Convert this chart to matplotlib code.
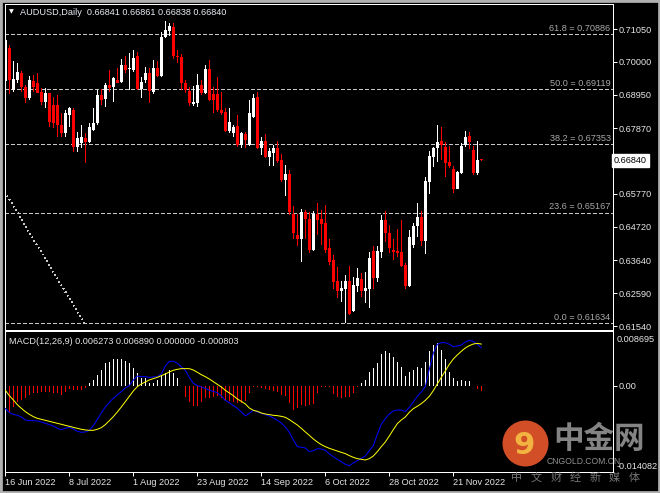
import numpy as np
import matplotlib
matplotlib.use('Agg')
import matplotlib.pyplot as plt
from matplotlib.patches import Ellipse, Rectangle

plt.rcParams['font.family'] = ['Liberation Sans', 'Noto Sans CJK SC', 'DejaVu Sans']

symbol_title = "AUDUSD,Daily"
last_quote = ["0.66841", "0.66861", "0.66838", "0.66840"]

opens = [
    0.6939, 0.7043, 0.6910, 0.6942, 0.6963, 0.6920, 0.6883, 0.6939, 0.6931, 0.6904,
    0.6872, 0.6899, 0.6862, 0.6862, 0.6798, 0.6771, 0.6830, 0.6846, 0.6728, 0.6739,
    0.6755, 0.6744, 0.6782, 0.6803, 0.6894, 0.6880, 0.6926, 0.6918, 0.6942, 0.6936,
    0.6990, 0.6978, 0.6974, 0.7019, 0.6912, 0.6942, 0.6963, 0.6904, 0.6979, 0.6955,
    0.7078, 0.7100, 0.7113, 0.7019, 0.7014, 0.6931, 0.6908, 0.6865, 0.6869, 0.6926,
    0.6901, 0.6976, 0.6897, 0.6897, 0.6846, 0.6840, 0.6780, 0.6772, 0.6795, 0.6734,
    0.6769, 0.6734, 0.6824, 0.6886, 0.6723, 0.6747, 0.6696, 0.6707, 0.6725, 0.6686,
    0.6622, 0.6641, 0.6512, 0.6445, 0.6432, 0.6518, 0.6496, 0.6397, 0.6513, 0.6496,
    0.6483, 0.6403, 0.6365, 0.6298, 0.6267, 0.6273, 0.6298, 0.6202, 0.6283, 0.6305,
    0.6267, 0.6273, 0.6394, 0.6309, 0.6392, 0.6494, 0.6451, 0.6397, 0.6394, 0.6391,
    0.6349, 0.6283, 0.6413, 0.6474, 0.6504, 0.6427, 0.6616, 0.6696, 0.6723, 0.6748,
    0.6728, 0.6680, 0.6657, 0.6593, 0.6645, 0.6734, 0.6764, 0.6718, 0.6645, 0.66841]
highs = [
    0.7072, 0.7054, 0.7001, 0.6995, 0.6971, 0.6926, 0.6955, 0.6958, 0.6963, 0.6915,
    0.6915, 0.6901, 0.6888, 0.6894, 0.6835, 0.6846, 0.6854, 0.6851, 0.6776, 0.6798,
    0.6771, 0.6803, 0.6851, 0.6910, 0.6912, 0.6931, 0.6974, 0.6952, 0.6979, 0.7008,
    0.7017, 0.7029, 0.7038, 0.7032, 0.6952, 0.6984, 0.6979, 0.7006, 0.7001, 0.7097,
    0.7132, 0.7125, 0.7123, 0.7038, 0.7025, 0.6942, 0.6920, 0.6923, 0.6961, 0.6942,
    0.6990, 0.7006, 0.6918, 0.6952, 0.6904, 0.6851, 0.6851, 0.6798, 0.6830, 0.6776,
    0.6774, 0.6878, 0.6897, 0.6904, 0.6760, 0.6769, 0.6723, 0.6734, 0.6746, 0.6705,
    0.6670, 0.6654, 0.6538, 0.6513, 0.6528, 0.6525, 0.6520, 0.6522, 0.6547, 0.6525,
    0.6541, 0.6432, 0.6381, 0.6344, 0.6298, 0.6317, 0.6346, 0.6310, 0.6339, 0.6323,
    0.6326, 0.6392, 0.6410, 0.6410, 0.6510, 0.6522, 0.6478, 0.6432, 0.6464, 0.6494,
    0.6355, 0.6460, 0.6483, 0.6547, 0.6523, 0.6630, 0.6715, 0.6726, 0.6798, 0.6792,
    0.6744, 0.6730, 0.6666, 0.6651, 0.6739, 0.6780, 0.6776, 0.6730, 0.6748, 0.66861]
lows = [
    0.6931, 0.6896, 0.6904, 0.6931, 0.6904, 0.6869, 0.6878, 0.6904, 0.6899, 0.6861,
    0.6851, 0.6792, 0.6787, 0.6760, 0.6760, 0.6760, 0.6792, 0.6712, 0.6712, 0.6723,
    0.6677, 0.6739, 0.6780, 0.6798, 0.6862, 0.6856, 0.6904, 0.6872, 0.6931, 0.6933,
    0.6963, 0.6910, 0.6968, 0.6910, 0.6883, 0.6931, 0.6867, 0.6897, 0.6952, 0.6950,
    0.7075, 0.7083, 0.7008, 0.6995, 0.6910, 0.6899, 0.6858, 0.6858, 0.6854, 0.6894,
    0.6897, 0.6876, 0.6837, 0.6840, 0.6830, 0.6776, 0.6773, 0.6760, 0.6728, 0.6723,
    0.6723, 0.6730, 0.6821, 0.6721, 0.6702, 0.6693, 0.6666, 0.6666, 0.6675, 0.6616,
    0.6570, 0.6509, 0.6432, 0.6411, 0.6360, 0.6432, 0.6389, 0.6395, 0.6445, 0.6413,
    0.6387, 0.6349, 0.6274, 0.6245, 0.6232, 0.6163, 0.6189, 0.6200, 0.6264, 0.6248,
    0.6227, 0.6211, 0.6272, 0.6296, 0.6371, 0.6424, 0.6387, 0.6365, 0.6374, 0.6344,
    0.6271, 0.6280, 0.6403, 0.6440, 0.6411, 0.6384, 0.6577, 0.6664, 0.6680, 0.6686,
    0.6632, 0.6659, 0.6581, 0.6592, 0.6641, 0.6728, 0.6720, 0.6638, 0.6638, 0.66838]
closes = [
    0.7070, 0.6942, 0.6945, 0.6968, 0.6920, 0.6883, 0.6942, 0.6918, 0.6901, 0.6872,
    0.6899, 0.6808, 0.6803, 0.6798, 0.6771, 0.6835, 0.6851, 0.6728, 0.6755, 0.6760,
    0.6744, 0.6792, 0.6803, 0.6894, 0.6878, 0.6926, 0.6917, 0.6947, 0.6933, 0.6990,
    0.6974, 0.6979, 0.7011, 0.6912, 0.6936, 0.6963, 0.6908, 0.6979, 0.6955, 0.7081,
    0.7102, 0.7115, 0.7017, 0.7014, 0.6931, 0.6910, 0.6869, 0.6872, 0.6926, 0.6899,
    0.6976, 0.6878, 0.6878, 0.6846, 0.6837, 0.6780, 0.6808, 0.6792, 0.6734, 0.6771,
    0.6750, 0.6835, 0.6884, 0.6723, 0.6747, 0.6696, 0.6715, 0.6723, 0.6682, 0.6622,
    0.6641, 0.6520, 0.6451, 0.6432, 0.6518, 0.6496, 0.6397, 0.6513, 0.6493, 0.6481,
    0.6397, 0.6360, 0.6296, 0.6267, 0.6277, 0.6298, 0.6193, 0.6285, 0.6309, 0.6267,
    0.6277, 0.6371, 0.6309, 0.6394, 0.6494, 0.6451, 0.6403, 0.6392, 0.6389, 0.6346,
    0.6283, 0.6440, 0.6474, 0.6504, 0.6427, 0.6619, 0.6698, 0.6723, 0.6742, 0.6734,
    0.6677, 0.6667, 0.6592, 0.6648, 0.6731, 0.6760, 0.6742, 0.6645, 0.6686, 0.66840]

date_tick_idx = [0, 16, 32, 48, 64, 80, 96, 112]
date_tick_labels = ["16 Jun 2022", "8 Jul 2022", "1 Aug 2022", "23 Aug 2022",
                    "14 Sep 2022", "6 Oct 2022", "28 Oct 2022", "21 Nov 2022"]

price_ticks = [0.71050, 0.70000, 0.68950, 0.67870, 0.65770, 0.64720, 0.63640, 0.62590, 0.61540]
current_price = 0.66840

fib_ratios = ["61.8", "50.0", "38.2", "23.6", "0.0"]
fib_prices = [0.70886, 0.69119, 0.67353, 0.65167, 0.61634]
fib_anchor_idx = [-51.2, 19.75]
fib_anchor_price = [0.76605, 0.61634]

macd_main = [
    -0.00373, -0.00438, -0.00466, -0.00482, -0.00510, -0.00559, -0.00570, -0.00570, -0.00575, -0.00592,
    -0.00614, -0.00636, -0.00658, -0.00696, -0.00718, -0.00696, -0.00680, -0.00707, -0.00745, -0.00762,
    -0.00756, -0.00729, -0.00652, -0.00548, -0.00444, -0.00345, -0.00269, -0.00203, -0.00148, -0.00093,
    -0.00033, 0.00005, 0.00099, 0.00164, 0.00153, 0.00153, 0.00142, 0.00148, 0.00153, 0.00197,
    0.00329, 0.00406, 0.00406, 0.00373, 0.00318, 0.00258, 0.00142, 0.00044, 0.00005, -0.00016,
    -0.00038, -0.00071, -0.00088, -0.00110, -0.00164, -0.00236, -0.00274, -0.00323, -0.00367, -0.00427,
    -0.00493, -0.00449, -0.00400, -0.00427, -0.00449, -0.00471, -0.00493, -0.00526, -0.00564, -0.00608,
    -0.00674, -0.00762, -0.00888, -0.00997, -0.01008, -0.01019, -0.01080, -0.01063, -0.01030, -0.01036,
    -0.01058, -0.01118, -0.01162, -0.01206, -0.01244, -0.01288, -0.01310, -0.01266, -0.01228, -0.01189,
    -0.01151, -0.01063, -0.00981, -0.00795, -0.00630, -0.00537, -0.00460, -0.00411, -0.00395, -0.00395,
    -0.00422, -0.00351, -0.00263, -0.00170, -0.00099, -0.00011, 0.00274, 0.00537, 0.00685, 0.00712,
    0.00712, 0.00685, 0.00647, 0.00658, 0.00674, 0.00723, 0.00751, 0.00734, 0.00685, 0.00627]
macd_signal = [
    -0.00071, -0.00159, -0.00230, -0.00307, -0.00367, -0.00422, -0.00466, -0.00504, -0.00532, -0.00548,
    -0.00564, -0.00581, -0.00597, -0.00614, -0.00630, -0.00647, -0.00663, -0.00680, -0.00696, -0.00712,
    -0.00723, -0.00729, -0.00729, -0.00712, -0.00685, -0.00636, -0.00570, -0.00504, -0.00427, -0.00345,
    -0.00258, -0.00170, -0.00082, -0.00011, 0.00033, 0.00066, 0.00099, 0.00121, 0.00142, 0.00170,
    0.00197, 0.00230, 0.00258, 0.00274, 0.00285, 0.00285, 0.00285, 0.00263, 0.00225, 0.00186,
    0.00153, 0.00115, 0.00071, 0.00027, -0.00016, -0.00071, -0.00115, -0.00159, -0.00214, -0.00252,
    -0.00296, -0.00362, -0.00400, -0.00416, -0.00444, -0.00460, -0.00471, -0.00482, -0.00488, -0.00499,
    -0.00515, -0.00553, -0.00597, -0.00641, -0.00696, -0.00756, -0.00811, -0.00871, -0.00921, -0.00964,
    -0.00997, -0.01025, -0.01047, -0.01069, -0.01091, -0.01112, -0.01145, -0.01173, -0.01195, -0.01206,
    -0.01217, -0.01195, -0.01151, -0.01080, -0.00997, -0.00921, -0.00822, -0.00718, -0.00619, -0.00559,
    -0.00510, -0.00433, -0.00373, -0.00334, -0.00290, -0.00236, -0.00170, -0.00077, 0.00033, 0.00142,
    0.00247, 0.00356, 0.00444, 0.00510, 0.00570, 0.00625, 0.00663, 0.00690, 0.00701, 0.00689]
macd_hist = [
    -0.00367, -0.00422, -0.00340, -0.00258, -0.00230, -0.00203, -0.00148, -0.00121, -0.00110, -0.00093,
    -0.00093, -0.00093, -0.00121, -0.00121, -0.00148, -0.00093, -0.00055, -0.00066, -0.00066, -0.00066,
    -0.00038, 0.00044, 0.00099, 0.00181, 0.00263, 0.00373, 0.00400, 0.00438, 0.00438, 0.00438,
    0.00416, 0.00373, 0.00290, 0.00208, 0.00126, 0.00126, 0.00044, 0.00044, 0.00099, 0.00181,
    0.00208, 0.00263, 0.00208, 0.00126, 0.00003, -0.00175, -0.00258, -0.00329, -0.00329, -0.00258,
    -0.00203, -0.00203, -0.00175, -0.00164, -0.00203, -0.00230, -0.00241, -0.00258, -0.00274, -0.00274,
    -0.00241, -0.00121, -0.00011, -0.00022, -0.00038, -0.00055, -0.00066, -0.00077, -0.00093, -0.00148,
    -0.00164, -0.00274, -0.00395, -0.00367, -0.00312, -0.00329, -0.00312, -0.00296, -0.00110, -0.00011,
    -0.00022, -0.00022, -0.00132, -0.00175, -0.00192, -0.00175, -0.00175, -0.00121, -0.00011, 0.00044,
    0.00099, 0.00236, 0.00290, 0.00384, 0.00526, 0.00575, 0.00537, 0.00482, 0.00400, 0.00318,
    0.00164, 0.00236, 0.00263, 0.00318, 0.00290, 0.00400, 0.00575, 0.00674, 0.00701, 0.00592,
    0.00438, 0.00236, 0.00126, 0.00088, 0.00099, 0.00088, 0.00088, 0.0, -0.00055, -0.00080]
macd_title = "MACD(12,26,9)"
macd_label_values = ["0.006273", "0.006890", "0.000000", "-0.000803"]
macd_axis_labels = ["0.008695", "0.00", "-0.014082"]

# ---------------------------------------------------------------
W, H = 660, 493
fig = plt.figure(figsize=(W / 100, H / 100), dpi=100, facecolor='black')

def fx(px):
    return px / W

def fy(py):
    return 1 - py / H

L_PX, R_PX = 4.5, 612.5
ax = fig.add_axes([fx(L_PX), fy(329.5), (R_PX - L_PX) / W, (329.5 - 3.5) / H])
axm = fig.add_axes([fx(L_PX), fy(471.5), (R_PX - L_PX) / W, (471.5 - 331) / H])

TXT = '#E6E6E6'
FS = 6.6
PX = 0.72  # one pixel in points

for a in (ax, axm):
    a.set_facecolor('black')
    for s in a.spines.values():
        s.set_color('white')
        s.set_linewidth(PX)
    a.set_xlim(-0.21, 151.8)

ax.set_ylim(0.61428, 0.71867)

o = np.array(opens); h = np.array(highs); l = np.array(lows); c = np.array(closes)
x = np.arange(len(o))
cols = np.where(c >= o, '#FFFFFF', '#FF0000')
ax.bar(x, h - l, bottom=l, width=0.25, color=cols, linewidth=0, zorder=3, antialiased=False)
bot = np.minimum(o, c)
hgt = np.maximum(np.abs(c - o), 0.00032)
ax.bar(x, hgt, bottom=bot, width=0.75, color=cols, linewidth=0, zorder=4, antialiased=False)

# Fibonacci levels
for r, p in zip(fib_ratios, fib_prices):
    ax.axhline(p, color='#C8C8C8', linewidth=PX, linestyle=(0, (3.8, 2.4)), zorder=2,
               antialiased=False)
    ax.annotate(f"{r} = {p:.5f}", xy=(0.9968, p), xycoords=('axes fraction', 'data'),
                xytext=(0, 1.0), textcoords='offset points', ha='right', va='bottom',
                color='#A8A8A8', fontsize=FS)
ax.plot(fib_anchor_idx, fib_anchor_price, color='#C8C8C8', linewidth=PX,
        linestyle=(0, (1.0, 4.0)), zorder=2, antialiased=False)

# right price axis
ax.yaxis.tick_right()
ax.set_yticks(price_ticks)
ax.set_yticklabels([f"{v:.5f}" for v in price_ticks])
ax.tick_params(axis='y', colors='white', labelcolor=TXT, length=3, width=PX,
               pad=1.5, labelsize=FS)
ax.set_xticks([])
ax.text(1.0025, current_price, f"{current_price:.5f}", transform=ax.get_yaxis_transform(),
        ha='left', va='center', fontsize=FS, color='black', clip_on=False,
        bbox=dict(boxstyle='square,pad=0.18', facecolor='white', edgecolor='white'))

# title
fig.text(fx(11), fy(12), '\u25BC', fontsize=4.5, color='white', ha='center', va='center',
         family='DejaVu Sans')
fig.text(fx(20), fy(12.5), symbol_title + "  " + " ".join(last_quote), fontsize=FS,
         color='#E8ECF4', ha='left', va='center')

# MACD panel
axm.set_ylim(-0.01406, 0.00904)
hv = np.array(macd_hist)
hcols = np.where(hv >= 0, '#FFFFFF', '#FF0000')
axm.bar(x, hv, width=0.25, color=hcols, linewidth=0, zorder=2, antialiased=False)
axm.plot(x, macd_main, color='#0000FF', linewidth=PX, zorder=3)
axm.plot(x, macd_signal, color='#FFFF00', linewidth=PX, zorder=4)
axm.text(0.008, 0.925, macd_title + " " + " ".join(macd_label_values), transform=axm.transAxes,
         color=TXT, fontsize=FS, ha='left', va='center')

axm.yaxis.tick_right()
axm.set_yticks([0.0])
axm.set_yticklabels([macd_axis_labels[1]])
axm.tick_params(axis='y', colors='white', labelcolor=TXT, length=3, width=PX,
                pad=1.5, labelsize=FS)
axm.text(1.0074, 0.941, macd_axis_labels[0], transform=axm.transAxes, color=TXT,
         fontsize=FS, ha='left', va='center', clip_on=False)
axm.text(1.0074, 0.034, macd_axis_labels[2], transform=axm.transAxes, color=TXT,
         fontsize=FS, ha='left', va='center', clip_on=False, zorder=10)

axm.set_xticks(date_tick_idx)
axm.set_xticklabels(date_tick_labels)
axm.tick_params(axis='x', colors='white', labelcolor=TXT, length=3, width=PX,
                pad=1.5, labelsize=FS, direction='out')
for lab in axm.get_xticklabels():
    lab.set_ha('left')

# watermark
logo = Ellipse((fx(525.5), fy(443.5)), 46 / W, 46 / H, transform=fig.transFigure,
               facecolor='#E4552B', edgecolor='none', alpha=0.92, zorder=20)
fig.patches.append(logo)
fig.text(fx(524), fy(445), '9', fontsize=22, fontweight='bold', color='#F4B942',
         ha='center', va='center', family='DejaVu Sans', alpha=0.95, zorder=21)
fig.text(fx(599), fy(439), '中金网', fontsize=22, fontweight='bold', color='#9C9C9C',
         ha='center', va='center', family=['Noto Sans CJK SC'], alpha=0.85, zorder=21)
fig.text(fx(584), fy(462), 'CNGOLD.COM.CN', fontsize=6.2, color='#A8A8A8',
         ha='center', va='center', alpha=0.85, zorder=21)
wm_chars = "中文财经新媒体"
for k, ch in enumerate(wm_chars):
    fig.text(fx(517 + 19.5 * k), fy(478), ch, fontsize=8, color='#8A8A8A',
             ha='center', va='center', family=['Noto Sans CJK SC'], alpha=0.85, zorder=21)

# outer window frame
fig.patches.append(Rectangle((0, 0), 1, 1, transform=fig.transFigure, fill=False,
                             edgecolor='#B0B0B0', linewidth=3.4, zorder=30))

fig.savefig('out.png', dpi=100, facecolor='black')
